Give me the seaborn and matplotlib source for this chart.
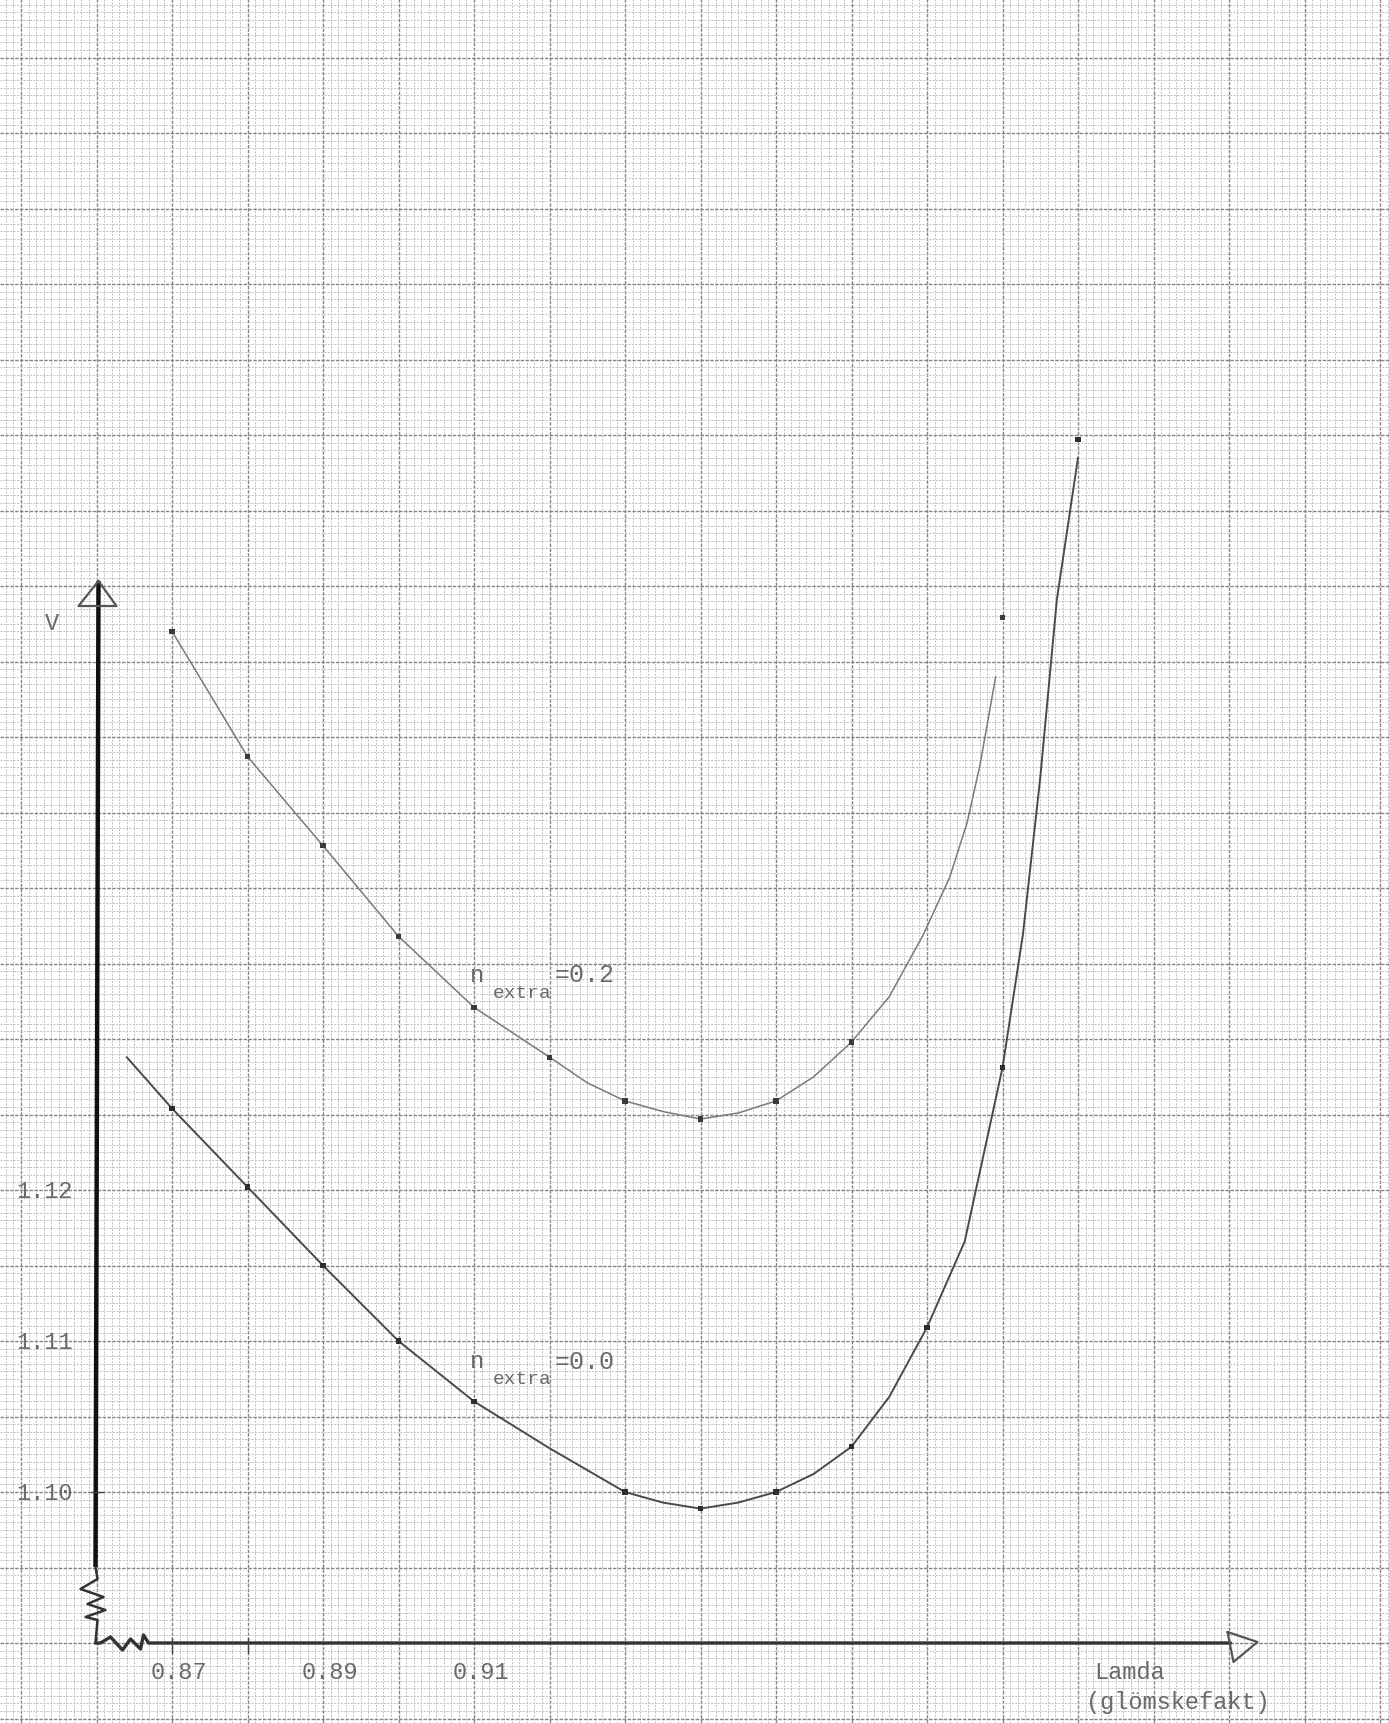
import matplotlib
matplotlib.use("Agg")
import matplotlib.pyplot as plt
from matplotlib.ticker import MultipleLocator
import pandas as pd
import seaborn as sns

# ---- measured values -------------------------------------------------------
# n_extra = 0.2 : drawn curve and plotted points
lam_curve_02 = [0.87, 0.88, 0.89, 0.90, 0.91, 0.92, 0.925, 0.93, 0.935, 0.94,
                0.945, 0.95, 0.955, 0.96, 0.965, 0.9695, 0.973, 0.9753, 0.977,
                0.9791]
v_curve_02 = [1.1570, 1.1487, 1.1428, 1.1368, 1.1321, 1.1288, 1.1271, 1.1259,
              1.1252, 1.1247, 1.1251, 1.1259, 1.1275, 1.1298, 1.1328, 1.1369,
              1.1407, 1.1443, 1.1481, 1.1540]
lam_pts_02 = [0.87, 0.88, 0.89, 0.90, 0.91, 0.92, 0.93, 0.94, 0.95, 0.96, 0.98]
v_pts_02 = [1.1570, 1.1487, 1.1428, 1.1368, 1.1321, 1.1288, 1.1259, 1.1247,
            1.1259, 1.1298, 1.1579]

# n_extra = 0.0 : drawn curve and plotted points
lam_curve_00 = [0.864, 0.87, 0.88, 0.89, 0.90, 0.91, 0.92, 0.93, 0.935, 0.94,
                0.945, 0.95, 0.955, 0.96, 0.965, 0.97, 0.975, 0.98, 0.9827,
                0.985, 0.9872, 0.99]
v_curve_00 = [1.1288, 1.1254, 1.1202, 1.1150, 1.1100, 1.1060, 1.1029, 1.1000,
              1.0993, 1.0989, 1.0993, 1.1000, 1.1012, 1.1030, 1.1063, 1.1109,
              1.1166, 1.1281, 1.1369, 1.1473, 1.1591, 1.1685]
lam_pts_00 = [0.87, 0.88, 0.89, 0.90, 0.91, 0.93, 0.94, 0.95, 0.96, 0.97,
              0.98, 0.99]
v_pts_00 = [1.1254, 1.1202, 1.1150, 1.1100, 1.1060, 1.1000, 1.0989, 1.1000,
            1.1030, 1.1109, 1.1281, 1.1697]

x_tick_values = [0.87, 0.89, 0.91]
x_tick_labels = ["0.87", "0.89", "0.91"]
y_tick_values = [1.12, 1.11, 1.10]
y_tick_labels = ["1.12", "1.11", "1.10"]

# ---- page geometry -----------------------------------------------------------
W, H = 1389, 1724
LAM_PER_PX = 0.01 / 75.5      # one big square = 0.01 in lambda
V_PER_PX = 0.01 / 151.0       # two big squares = 0.01 in V
LAM_REF, X_REF = 0.87, 172.0  # pixel column of lambda = 0.87
V_REF, Y_REF = 1.10, 1493.0   # pixel row of V = 1.10

xlim = (LAM_REF - X_REF * LAM_PER_PX, LAM_REF + (W - X_REF) * LAM_PER_PX)
ylim = (V_REF - (H - Y_REF) * V_PER_PX, V_REF + Y_REF * V_PER_PX)

AX0, AY0 = 0.86, 1.09         # where the hand-drawn axes cross


def off(dx, dy):
    """Pixel offset (dy downwards) from the axis crossing, in data units."""
    return AX0 + dx * LAM_PER_PX, AY0 - dy * V_PER_PX


sns.set_style("white")
plt.rcParams["font.family"] = ["Liberation Mono", "DejaVu Sans Mono"]

fig = plt.figure(figsize=(W / 100, H / 100), dpi=100)
ax = fig.add_axes([0, 0, 1, 1])
ax.set_xlim(*xlim)
ax.set_ylim(*ylim)

# graph paper
ax.xaxis.set_major_locator(MultipleLocator(0.01))
ax.xaxis.set_minor_locator(MultipleLocator(0.001))
ax.yaxis.set_major_locator(MultipleLocator(0.005))
ax.yaxis.set_minor_locator(MultipleLocator(0.0005))
ax.grid(which="minor", color="#c0c0c0", lw=0.7, ls=(0, (2, 1.4)), zorder=0)
ax.grid(which="major", color="#858585", lw=1.0, ls=(0, (2.5, 1)), zorder=0)
ax.tick_params(which="both", length=0, labelbottom=False, labelleft=False)
for s in ax.spines.values():
    s.set_visible(False)
ax.set_axisbelow(True)

# curves
df02 = pd.DataFrame({"lam": lam_curve_02, "v": v_curve_02})
df00 = pd.DataFrame({"lam": lam_curve_00, "v": v_curve_00})
sns.lineplot(data=df02, x="lam", y="v", ax=ax, sort=False, estimator=None,
             color="#7a7a7a", lw=1.1, zorder=3)
sns.lineplot(data=df00, x="lam", y="v", ax=ax, sort=False, estimator=None,
             color="#4a4a4a", lw=1.4, zorder=3)
sns.scatterplot(x=lam_pts_02, y=v_pts_02, ax=ax, s=14, marker="s",
                color="#3a3a3a", edgecolor="none", zorder=4)
sns.scatterplot(x=lam_pts_00, y=v_pts_00, ax=ax, s=14, marker="s",
                color="#2e2e2e", edgecolor="none", zorder=4)
ax.set_xlabel("")
ax.set_ylabel("")

# hand-drawn axes
top = off(2, -1062)
ax.plot([off(-1, -76)[0], top[0]], [off(-1, -76)[1], top[1]],
        color="#111111", lw=3.2, solid_capstyle="butt", zorder=5)
zig_y = [(-1, -76), (1, -64), (-16, -54), (7, -46), (-9, -39), (9, -33),
         (-11, -26), (1, -23), (-1, 0)]
ax.plot(*zip(*[off(*p) for p in zig_y]), color="#333333", lw=1.8, zorder=5)
zig_x = [(-1, 0), (4, 0), (14, -6), (26, 7), (34, -4), (44, 6), (47, -8),
         (52, 0), (1134, 0)]
ax.plot(*zip(*[off(*p) for p in zig_x]), color="#333333", lw=2.4, zorder=5)
tri_y = [(2, -1062), (-18, -1037), (20, -1037), (2, -1062)]
ax.plot(*zip(*[off(*p) for p in tri_y]), color="#555555", lw=1.6, zorder=5)
tri_x = [(1131, -11), (1161, -1), (1137, 19), (1131, -11)]
ax.plot(*zip(*[off(*p) for p in tri_x]), color="#555555", lw=1.6, zorder=5)

# small tick marks
for t in [0.87, 0.88]:
    ax.plot([t, t], [AY0 + 5 * V_PER_PX, AY0 - 10 * V_PER_PX],
            color="#444444", lw=1.0, zorder=5)
ax.plot([AX0 - 6 * LAM_PER_PX, AX0 + 6 * LAM_PER_PX], [1.10, 1.10],
        color="#444444", lw=1.0, zorder=5)

txt = dict(color="#6a6a6a", ha="center", va="center", zorder=6)
for val, lab in zip(x_tick_values, x_tick_labels):
    ax.annotate(lab, (val, AY0), xytext=(7, -28), textcoords="offset pixels",
                fontsize=17, **txt)
for val, lab in zip(y_tick_values, y_tick_labels):
    ax.annotate(lab, (AX0, val), xytext=(-52, 0), textcoords="offset pixels",
                fontsize=17, **txt)

ax.text(0.8541, 1.1576, "V", fontsize=17, **txt)

# curve labels
for n_val, (lx, ly) in [("0.2", (0.9104, 1.1343)), ("0.0", (0.9104, 1.1087))]:
    ax.text(lx, ly, "n", fontsize=17, **txt)
    ax.text(lx + 0.0060, ly - 0.0012, "extra", fontsize=14, **txt)
    ax.text(lx + 0.0143, ly, "=" + n_val, fontsize=18, **txt)

ax.text(0.9968, 1.0881, "Lamda", fontsize=17, **txt)
ax.text(1.0032, 1.0861, "(glömskefakt)", fontsize=17, **txt)

fig.savefig("out.png", dpi=100)
